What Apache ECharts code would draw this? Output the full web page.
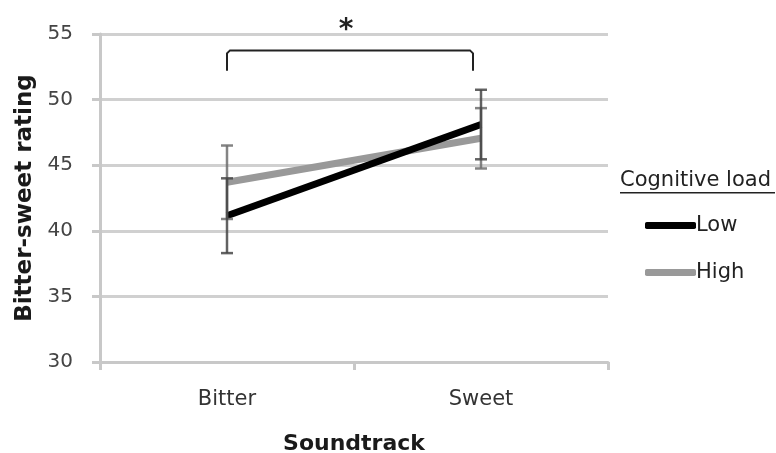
<!DOCTYPE html>
<html><head><meta charset="utf-8">
<script src="https://cdn.jsdelivr.net/npm/echarts@6/dist/echarts.min.js"></script>
<style>html,body{margin:0;padding:0;background:#fff}#c{width:776px;height:453px}</style>
</head><body><div id="c"></div>
<script>
var categories = ['Bitter', 'Sweet'];
var lowMeans = [41.15, 48.1];
var lowErr = [2.85, 2.65];
var highMeans = [43.7, 47.05];
var highErr = [2.8, 2.3];
var yTicks = [30, 35, 40, 45, 50, 55];
var bracketTop = 53.75, bracketBottom = 52.2, starValue = 55.6;

var FONT = '"DejaVu Sans", "Liberation Sans", sans-serif';
function errData(m, e) { return m.map(function (v, i) { return [i, v - e[i], v + e[i]]; }); }
function errRender(color) {
  return function (params, api) {
    var lo = api.coord([api.value(0), api.value(1)]);
    var hi = api.coord([api.value(0), api.value(2)]);
    var w = 6;
    var st = { stroke: color, lineWidth: 2.5 };
    return { type: 'group', children: [
      { type: 'line', shape: { x1: lo[0], y1: lo[1], x2: hi[0], y2: hi[1] }, style: st },
      { type: 'line', shape: { x1: lo[0] - w, y1: lo[1], x2: lo[0] + w, y2: lo[1] }, style: st },
      { type: 'line', shape: { x1: hi[0] - w, y1: hi[1], x2: hi[0] + w, y2: hi[1] }, style: st }
    ]};
  };
}
var chart = echarts.init(document.getElementById('c'));
chart.setOption({
  animation: false,
  grid: { left: 100, right: 168, top: 34, bottom: 91, containLabel: false, outerBoundsMode: 'none' },
  xAxis: {
    type: 'category', data: categories, boundaryGap: true,
    name: 'Soundtrack', nameLocation: 'middle', nameGap: 71,
    nameTextStyle: { fontFamily: FONT, fontWeight: 'bold', fontSize: 22, color: '#1a1a1a' },
    axisLine: { lineStyle: { color: '#c8c8c8', width: 3 } },
    axisTick: { show: true, length: 8, lineStyle: { color: '#c8c8c8', width: 3 } },
    axisLabel: { fontFamily: FONT, fontSize: 21, color: '#333', margin: 27 },
    splitLine: { show: false }
  },
  yAxis: {
    type: 'value', min: yTicks[0], max: yTicks[yTicks.length - 1], interval: 5,
    name: 'Bitter-sweet rating', nameLocation: 'middle', nameGap: 57, nameRotate: 90,
    nameTextStyle: { fontFamily: FONT, fontWeight: 'bold', fontSize: 23, color: '#1a1a1a' },
    axisLine: { show: true, lineStyle: { color: '#c8c8c8', width: 3 } },
    axisTick: { show: true, length: 8, lineStyle: { color: '#c8c8c8', width: 3 } },
    axisLabel: { fontFamily: FONT, fontSize: 20, color: '#444', margin: 27 },
    splitLine: { lineStyle: { color: '#d0d0d0', width: 3 } }
  },
  legend: {
    orient: 'vertical', left: 645, top: 215, padding: 0, itemWidth: 51, itemHeight: 7, itemGap: 26,
    icon: 'roundRect',
    textStyle: { fontFamily: FONT, fontSize: 21, color: '#222', padding: [0, 0, 0, -5] },
    data: [{ name: 'Low', itemStyle: { color: '#000' } }, { name: 'High', itemStyle: { color: '#999' } }]
  },
  graphic: [
    { type: 'text', left: 620, top: 170, style: { text: 'Cognitive load', font: '21px ' + FONT, fill: '#222' } },
    { type: 'rect', left: 620, top: 192, shape: { width: 155, height: 1.5 }, style: { fill: '#222' } }
  ],
  series: [
    { name: 'High', type: 'line', data: highMeans, symbol: 'none', z: 3,
      lineStyle: { color: '#999', width: 7 }, itemStyle: { color: '#999' } },
    { name: 'Low', type: 'line', data: lowMeans, symbol: 'none', z: 4,
      lineStyle: { color: '#000', width: 7 }, itemStyle: { color: '#000' } },
    { name: 'HighErr', type: 'custom', data: errData(highMeans, highErr), renderItem: errRender('rgba(110,110,110,0.85)'), z: 5 },
    { name: 'LowErr', type: 'custom', data: errData(lowMeans, lowErr), renderItem: errRender('rgba(70,70,70,0.85)'), z: 5 },
    { name: 'Bracket', type: 'custom', clip: false, z: 6,
      data: [[0, 1]],
      renderItem: function (params, api) {
        var a = api.coord([api.value(0), bracketTop]);
        var b = api.coord([api.value(1), bracketTop]);
        var ab = api.coord([api.value(0), bracketBottom]);
        var sv = api.coord([api.value(0), starValue]);
        var midX = (a[0] + b[0]) / 2;
        var x2 = b[0] - 8;
        var st = { stroke: '#222', lineWidth: 2, fill: null };
        return { type: 'group', children: [
          { type: 'polyline', shape: { points: [[a[0], ab[1]], [a[0], a[1] + 3], [a[0] + 3, a[1]], [x2 - 3, a[1]], [x2, a[1] + 3], [x2, ab[1]]] }, style: st },
          { type: 'text', style: { text: '*', x: midX - 8, y: sv[1] + 5, font: 'bold 28px ' + FONT, fill: '#222', textAlign: 'center', textVerticalAlign: 'middle' } }
        ]};
      } }
  ]
});
</script></body></html>
